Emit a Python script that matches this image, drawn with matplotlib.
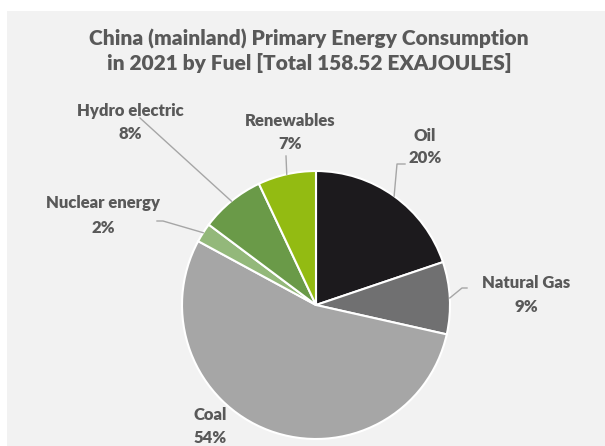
import numpy as np
import matplotlib
matplotlib.use("Agg")
import matplotlib.pyplot as plt
from matplotlib.patches import Rectangle

# ---- data ----
categories = ["Oil", "Natural Gas", "Coal", "Nuclear energy", "Hydro electric", "Renewables"]
values_ej = [31.4, 13.8, 86.2, 3.7, 12.3, 11.1]
colors = ["#1c1a1d", "#707071", "#a6a6a6", "#93b87a", "#6a9a48", "#93bb12"]
title = "China (mainland) Primary Energy Consumption\nin 2021 by Fuel [Total 158.52 EXAJOULES]"

W, H = 605, 446
fig = plt.figure(figsize=(W / 100, H / 100), dpi=100)
fig.patch.set_facecolor("white")
ax = fig.add_axes([0, 0, 1, 1])


def Y(y):
    return H - y


FONT = ["Lato", "DejaVu Sans"]
TXT = "#595959"
WEIGHT = "heavy"

ax.add_patch(Rectangle((7, 0), W, Y(11), facecolor="#f2f2f2", edgecolor="none", zorder=0))

cx, cy, r = 316, 305, 134
wedges, _ = ax.pie(values_ej, colors=colors, startangle=90, counterclock=False,
                   center=(cx, Y(cy)), radius=r,
                   wedgeprops=dict(edgecolor="white", linewidth=1.5))
for w in wedges:
    w.set_zorder(2)

# label layout: (name centre x, name y, pct y, leader anchor points before pie edge)
layout = {
    "Oil": (425, 136, 158, [(405, 164), (397, 164)]),
    "Natural Gas": (526, 283, 307, [(467, 288), (462, 288)]),
    "Coal": (210, 415, 438, None),
    "Nuclear energy": (103, 203, 228, [(157, 221), (163, 221)]),
    "Hydro electric": (130, 111, 134, [(140, 118)]),
    "Renewables": (290, 121, 144, [(286, 156)]),
}

total = sum(values_ej)
for w, name, v in zip(wedges, categories, values_ej):
    x, y1, y2, lead = layout[name]
    ax.text(x, Y(y1), name, ha="center", va="center", fontsize=12,
            fontweight=WEIGHT, color=TXT, family=FONT, zorder=4)
    ax.text(x, Y(y2), f"{round(v / total * 100)}%", ha="center", va="center",
            fontsize=12, fontweight=WEIGHT, color=TXT, family=FONT, zorder=4)
    if lead:
        mid = np.deg2rad((w.theta1 + w.theta2) / 2)
        ex, ey = cx + r * np.cos(mid), Y(cy) + r * np.sin(mid)
        xs = [p[0] for p in lead] + [ex]
        ys = [Y(p[1]) for p in lead] + [ey]
        ax.plot(xs, ys, color="#a6a6a6", lw=1, zorder=3)

ax.text(309, Y(51), title, ha="center", va="center", fontsize=15,
        fontweight=WEIGHT, color=TXT, family=FONT, linespacing=1.25, zorder=4)

ax.set_xlim(0, W)
ax.set_ylim(0, H)
ax.set_aspect("auto")
ax.axis("off")
fig.savefig("out.png", dpi=100, facecolor="white")
